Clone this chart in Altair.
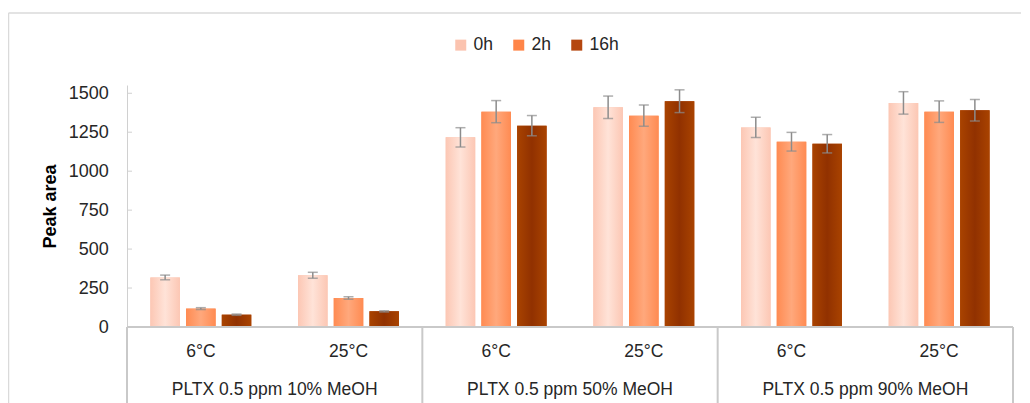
import altair as alt
import pandas as pd

# ---- data ----
groups = ["PLTX 0.5 ppm 10% MeOH", "PLTX 0.5 ppm 50% MeOH", "PLTX 0.5 ppm  90% MeOH"]
temps = ["6°C", "25°C"]
times = ["0h", "2h", "16h"]

val_0h = [318, 332, 1217, 1410, 1281, 1438]
val_2h = [118, 186, 1382, 1356, 1189, 1382]
val_16h = [79, 101, 1292, 1449, 1176, 1391]
err_0h = [15, 19, 62, 72, 65, 72]
err_2h = [6, 8, 71, 68, 60, 69]
err_16h = [4, 4, 65, 73, 59, 69]

y_ticks = [0, 250, 500, 750, 1000, 1250, 1500]

legend_colors = ["#FBC3AF", "#FF8548", "#B5470F"]
edge_colors = ["#FCC7B4", "#FF8B52", "#A94300"]
center_colors = ["#FFE3D8", "#FFA87C", "#913100"]

vals = {"0h": val_0h, "2h": val_2h, "16h": val_16h}
errs = {"0h": err_0h, "2h": err_2h, "16h": err_16h}

rows = []
cat_order = []
for gi, g in enumerate(groups):
    for ti, t in enumerate(temps):
        idx = gi * 2 + ti
        cat = f"{g} | {t}"
        cat_order.append(cat)
        for tm in times:
            v = vals[tm][idx]
            e = errs[tm][idx]
            rows.append(dict(group=g, temp=t, cat=cat, time=tm,
                             value=v, lo=v - e, hi=v + e))
df = pd.DataFrame(rows)

temp_df = pd.DataFrame([dict(cat=c, temp=c.split(" | ")[1]) for c in cat_order])
group_df = pd.DataFrame([dict(cat=f"{g} | {temps[1]}", group=g) for g in groups])
div_df = pd.DataFrame([dict(cat=f"{g} | {temps[0]}") for g in groups])
end_df = pd.DataFrame([dict(cat=cat_order[-1])])
tick_df = pd.DataFrame({"t": y_ticks})

W, H = 886, 242
FONT = "Liberation Sans"
TXT = "#262626"
LINE = "#C9C9C9"

xscale = alt.Scale(domain=cat_order, paddingInner=0, paddingOuter=0)
x = alt.X("cat:N", sort=cat_order, scale=xscale, axis=None)
xo = alt.XOffset("time:N", sort=times,
                 scale=alt.Scale(domain=times, paddingInner=0.174, paddingOuter=0.655))
yscale = alt.Scale(domain=[0, 1553], nice=False, zero=True)
yaxis = alt.Axis(values=y_ticks, title="Peak area", format="d")


def Y(field):
    return alt.Y(field, scale=yscale, axis=yaxis, title="Peak area")


base = alt.Chart(df)

bars = base.mark_bar().encode(
    x=x, xOffset=xo, y=Y("value:Q"),
    color=alt.Color("time:N", sort=times,
                    scale=alt.Scale(domain=times, range=legend_colors),
                    legend=alt.Legend(title=None, orient="none", direction="horizontal",
                                      legendX=325, legendY=-49, symbolType="square",
                                      symbolSize=121, symbolStrokeWidth=0,
                                      labelFont=FONT, labelFontSize=17.5, labelColor=TXT,
                                      labelOffset=4, columnPadding=17, padding=0)),
)

grad_layers = []
for tm, ec, cc in zip(times, edge_colors, center_colors):
    grad = alt.Gradient(
        gradient="linear",
        stops=[alt.GradientStop(color=ec, offset=0),
               alt.GradientStop(color=cc, offset=0.5),
               alt.GradientStop(color=ec, offset=1)],
        x1=0, x2=1, y1=0, y2=0,
    )
    grad_layers.append(
        base.transform_filter(alt.datum.time == tm)
        .mark_bar(color=grad)
        .encode(x=x, xOffset=xo, y=Y("value:Q"))
    )

err_rule = base.mark_rule(color="#8C8C8C", strokeWidth=1.5).encode(
    x=x, xOffset=xo, y=Y("lo:Q"), y2="hi:Q")
cap_hi = base.mark_tick(color="#8C8C8C", thickness=1.5, size=10, orient="horizontal").encode(
    x=x, xOffset=xo, y=Y("hi:Q"))
cap_lo = base.mark_tick(color="#8C8C8C", thickness=1.5, size=10, orient="horizontal").encode(
    x=x, xOffset=xo, y=Y("lo:Q"))

inner_ticks = alt.Chart(tick_df).mark_rule(color="#D0D0D0", strokeWidth=1).encode(
    y=Y("t:Q"), x=alt.value(0), x2=alt.value(5))

baseline = alt.Chart(tick_df).mark_rule(color=LINE, strokeWidth=2).encode(
    y=alt.datum(0))

dividers = alt.Chart(div_df).mark_rule(color=LINE, strokeWidth=2).encode(
    x=alt.X("cat:N", sort=cat_order, scale=xscale, axis=None, bandPosition=0),
    y=alt.value(H), y2=alt.value(H + 90))
end_div = alt.Chart(end_df).mark_rule(color=LINE, strokeWidth=2).encode(
    x=alt.X("cat:N", sort=cat_order, scale=xscale, axis=None, bandPosition=1),
    y=alt.value(H), y2=alt.value(H + 90))

temp_text = alt.Chart(temp_df).mark_text(
    font=FONT, fontSize=17.5, color=TXT, baseline="middle", align="center").encode(
    x=x, y=alt.value(H + 25), text="temp:N")

group_text = alt.Chart(group_df).mark_text(
    font=FONT, fontSize=17.5, color=TXT, baseline="middle", align="center").encode(
    x=alt.X("cat:N", sort=cat_order, scale=xscale, axis=None, bandPosition=0),
    y=alt.value(H + 63), text="group:N")

frame_top = alt.Chart(end_df).mark_rule(color="#DADADA", strokeWidth=1.5).encode(
    x=alt.value(-118.5), x2=alt.value(W + 10), y=alt.value(-72))
frame_left = alt.Chart(end_df).mark_rule(color="#DADADA", strokeWidth=1.5).encode(
    x=alt.value(-118.5), y=alt.value(-72), y2=alt.value(H + 90))

chart = alt.layer(
    frame_top, frame_left, bars, *grad_layers, err_rule, cap_hi, cap_lo,
    inner_ticks, baseline, dividers, end_div, temp_text, group_text,
).properties(
    width=W, height=H,
    autosize=alt.AutoSizeParams(type="none"),
    padding={"left": 119, "top": 77, "right": 8, "bottom": 76},
).configure_view(stroke=None).configure_axisY(
    grid=False, ticks=False, domainColor="#D0D0D0", domainWidth=1,
    labelFont=FONT, labelFontSize=18, labelColor=TXT, labelPadding=18.7,
    titleFont=FONT, titleFontSize=18, titleFontWeight="bold", titleColor="#000000",
    titlePadding=9,
)

chart.save("out.html", embed_options={"renderer": "svg", "actions": False})
